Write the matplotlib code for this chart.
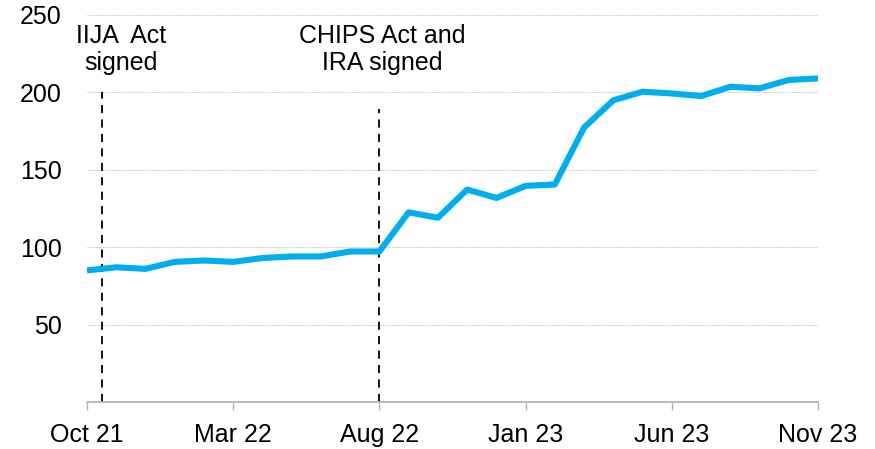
import matplotlib
matplotlib.use("Agg")
import matplotlib.pyplot as plt

plt.rcParams['font.family'] = ['Liberation Sans', 'DejaVu Sans']

# Monthly index, Oct 2021 through Nov 2023
months = ["Oct 21", "Nov 21", "Dec 21", "Jan 22", "Feb 22", "Mar 22", "Apr 22",
          "May 22", "Jun 22", "Jul 22", "Aug 22", "Sep 22", "Oct 22", "Nov 22",
          "Dec 22", "Jan 23", "Feb 23", "Mar 23", "Apr 23", "May 23", "Jun 23",
          "Jul 23", "Aug 23", "Sep 23", "Oct 23", "Nov 23"]
values = [85, 87, 86, 90.5, 91.4, 90.5, 93, 94, 94, 97.2, 97.2,
          122.5, 119, 137.2, 131.8, 139.6, 140.5, 177.3, 194.9, 200.4,
          199.3, 197.6, 203.6, 202.6, 208, 209]

tick_idx = [0, 5, 10, 15, 20, 25]
tick_labels = [months[i] for i in tick_idx]
y_ticks = [50, 100, 150, 200, 250]

# Policy events: (x position in months, top of marker line, label, label x)
events_x = [0.5, 10.0]
events_top = [200, 189]
events_text = ["IIJA  Act\nsigned", "CHIPS Act and\nIRA signed"]
events_text_x = [1.15, 10.1]

fig = plt.figure(figsize=(8.75, 4.49), dpi=100)
ax = fig.add_axes([0.0994, 0.1047, 0.8355, 0.862])

x = list(range(len(values)))
ax.plot(x, values, color="#00AEEF", lw=4.4, solid_joinstyle="round",
        solid_capstyle="butt", zorder=3)

for ex, top in zip(events_x, events_top):
    ax.plot([ex, ex], [0, top], color="black", lw=1.3,
            linestyle=(0, (4.5, 3.5)), zorder=2)

for tx, txt in zip(events_text_x, events_text):
    ax.text(tx, 244, txt, ha="center", va="top", fontsize=18,
            linespacing=1.17, color="black")

ax.set_xlim(0, 25)
ax.set_ylim(0, 250)
ax.set_xticks(tick_idx)
ax.set_xticklabels(tick_labels)
ax.set_yticks(y_ticks)

ax.grid(axis="y", color="#c0c0c0", linestyle=(0, (1, 1)), lw=0.8)
ax.set_axisbelow(True)

for side in ["top", "right", "left"]:
    ax.spines[side].set_visible(False)
ax.spines["bottom"].set_color("#b4b4b4")
ax.spines["bottom"].set_linewidth(1.3)

ax.tick_params(axis="x", length=6, width=1.0, color="#b4b4b4",
               labelsize=18, pad=9)
ax.tick_params(axis="y", length=0, labelsize=18, pad=18)

fig.savefig("out.png", dpi=100)
